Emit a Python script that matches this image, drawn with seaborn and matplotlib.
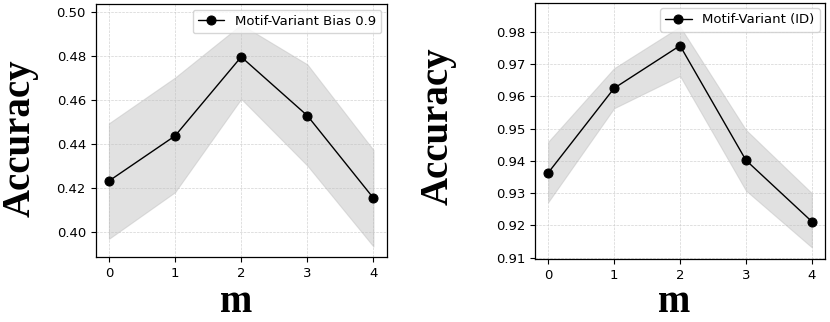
import numpy as np
import pandas as pd
import matplotlib
matplotlib.use("Agg")
import matplotlib.pyplot as plt
import seaborn as sns

sns.set_style("ticks")
plt.rcParams['font.family'] = ['DejaVu Sans']
plt.rcParams['text.color'] = 'black'
plt.rcParams['axes.labelcolor'] = 'black'
plt.rcParams['xtick.color'] = 'black'
plt.rcParams['ytick.color'] = 'black'

m_values = [0, 1, 2, 3, 4]

left_label = "Motif-Variant Bias 0.9"
left_mean = [0.4233, 0.4438, 0.4797, 0.4530, 0.4155]
left_upper = [0.4495, 0.4703, 0.4944, 0.4763, 0.4374]
left_lower = [0.3970, 0.4182, 0.4606, 0.4303, 0.3935]
left_yticks = [0.40, 0.42, 0.44, 0.46, 0.48, 0.50]

right_label = "Motif-Variant (ID)"
right_mean = [0.9363, 0.9625, 0.9757, 0.9402, 0.9212]
right_upper = [0.9459, 0.9687, 0.9816, 0.9496, 0.9300]
right_lower = [0.9272, 0.9563, 0.9663, 0.9308, 0.9132]
right_yticks = [0.91, 0.92, 0.93, 0.94, 0.95, 0.96, 0.97, 0.98]

fig = plt.figure(figsize=(8.3, 3.22), dpi=100)
ax1 = fig.add_axes([0.1153, 0.2009, 0.3506, 0.7857])
ax2 = fig.add_axes([0.6446, 0.1947, 0.3494, 0.7969])

def draw(ax, mean, upper, lower, label, yticks, ylim):
    df = pd.DataFrame({"m": m_values, "acc": mean})
    ax.fill_between(m_values, lower, upper, color="#bdbdbd", alpha=0.45, linewidth=0.8)
    sns.lineplot(data=df, x="m", y="acc", ax=ax, color="black", marker="o",
                 markersize=6.5, markeredgecolor="black", linewidth=1.0, label=label)
    ax.set_ylim(*ylim)
    ax.set_xlim(-0.2, 4.2)
    ax.set_xticks(m_values)
    ax.set_yticks(yticks)
    ax.set_yticklabels([f"{v:.2f}" for v in yticks])
    ax.tick_params(labelsize=9.5, length=3.5, width=0.8, colors="black")
    ax.grid(True, linestyle="--", linewidth=0.5, color="#c8c8c8", alpha=0.8)
    for s in ax.spines.values():
        s.set_visible(True)
        s.set_color("black")
        s.set_linewidth(0.9)
    ax.set_xlabel("")
    ax.set_ylabel("")
    leg = ax.legend(loc="upper right", fontsize=9.5, frameon=True, fancybox=True,
                    borderaxespad=0.4, handlelength=2.0)
    leg.get_frame().set_edgecolor("#cccccc")
    for t in leg.get_texts():
        t.set_color("black")

draw(ax1, left_mean, left_upper, left_lower, left_label, left_yticks, (0.3886, 0.5036))
draw(ax2, right_mean, right_upper, right_lower, right_label, right_yticks, (0.9095, 0.989))

serif = ['Liberation Serif', 'DejaVu Serif']
fig.text(0.024, 0.570, "Accuracy", rotation=90, ha="center", va="center",
         fontsize=28, fontweight="bold", family=serif, color="black")
fig.text(0.528, 0.607, "Accuracy", rotation=90, ha="center", va="center",
         fontsize=28, fontweight="bold", family=serif, color="black")
fig.text(0.284, 0.003, "m", ha="center", va="bottom",
         fontsize=28, fontweight="bold", family=serif, color="black")
fig.text(0.812, 0.003, "m", ha="center", va="bottom",
         fontsize=28, fontweight="bold", family=serif, color="black")

fig.savefig("out.png", dpi=100)
